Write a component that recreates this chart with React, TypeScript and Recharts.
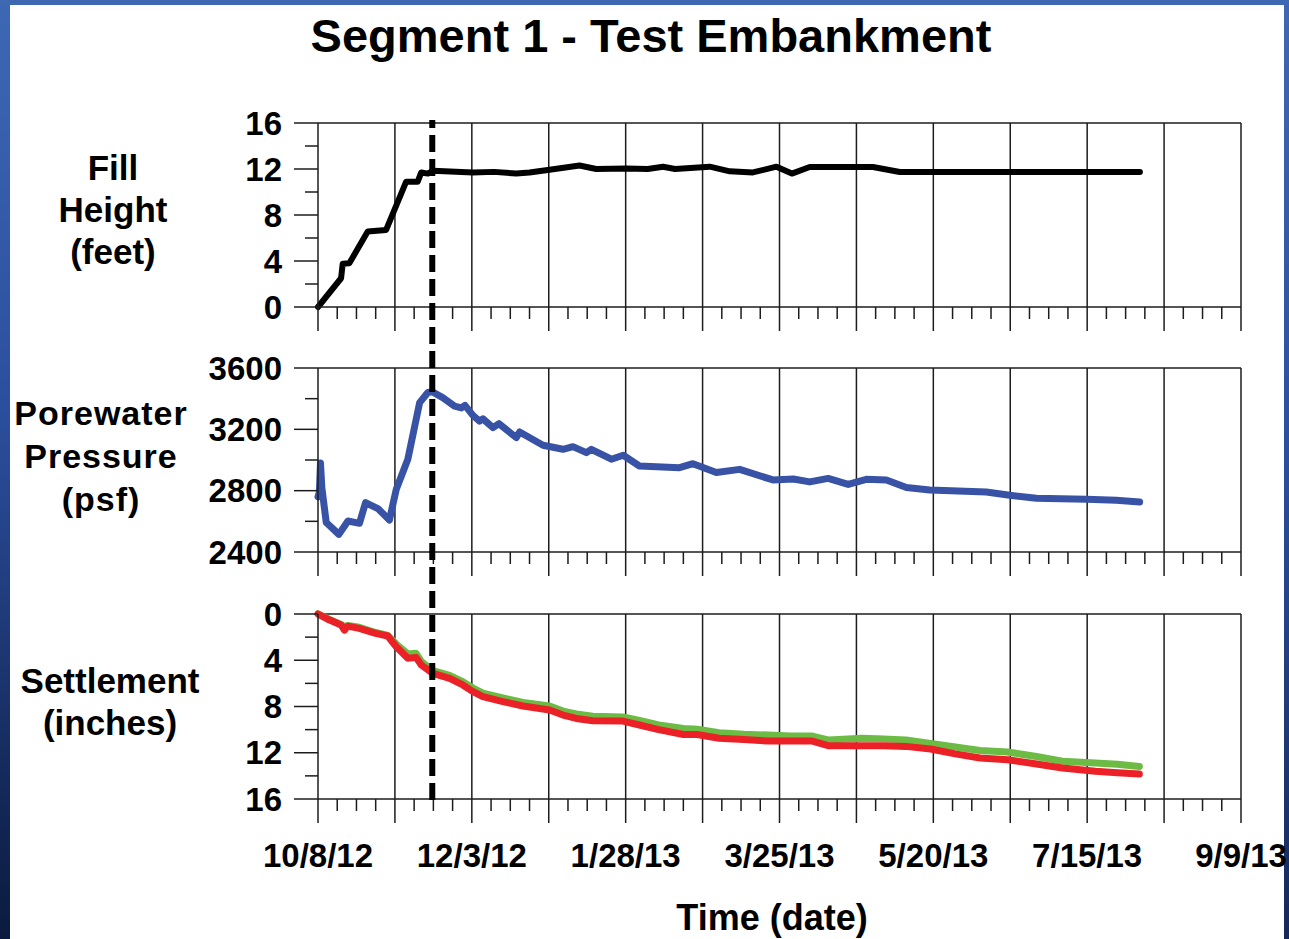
import React from 'react'
import { Line, LineChart, ReferenceLine, XAxis, YAxis } from 'recharts'

// time axis: days since 10/8/12
const dateLabels = ['10/8/12', '12/3/12', '1/28/13', '3/25/13', '5/20/13', '7/15/13', '9/9/13']
const SPAN_DAYS = 336
const GRID_STEP = 28
const LABEL_STEP = 56
const MINOR_STEP = 7
const loadDay = 41.6 // dashed marker, end of fill placement

const fillDays = [0, 8.4, 9, 11.4, 18.1, 24.8, 32.1, 36.3, 37.6, 40, 41.8, 56.4, 64, 72.2, 77, 84.3, 95.2,
  101.3, 112.2, 120, 125.6, 130, 142.6, 149.9, 158.3, 166.9, 172.5, 179, 202, 211.8, 299.2]
const fillFeet = [0, 2.5, 3.77, 3.8, 6.57, 6.7, 10.9, 10.9, 11.7, 11.6, 11.85, 11.7, 11.75, 11.6, 11.7, 11.94, 12.3,
  12.0, 12.05, 12.0, 12.2, 12.0, 12.2, 11.8, 11.7, 12.2, 11.6, 12.17, 12.17, 11.74, 11.74]

const poreDays = [0, 0.5, 0.9, 1.4, 3, 7.6, 10.9, 15.1, 17.3, 21.8, 26, 28.5, 32.7, 37, 40, 41.6, 45.4, 49.7, 52.2,
  53.5, 56.4, 58.8, 60, 63.7, 65.9, 72.2, 73.4, 81.9, 89.2, 92.8, 97.7, 99.5, 106.8, 111.1, 117, 131.6, 136.5,
  145, 153.5, 165.6, 173, 179, 185.7, 193, 199.6, 206.9, 214.2, 222.7, 243.3, 251.8, 261.5, 279.7, 290.6, 299.1]
const porePsf = [2760, 2790, 2980, 2820, 2592, 2515, 2602, 2587, 2722, 2683, 2609, 2809, 3005, 3374, 3440, 3445,
  3407, 3352, 3340, 3356, 3291, 3254, 3269, 3211, 3237, 3146, 3183, 3096, 3070, 3087, 3048, 3070, 3005, 3031,
  2961, 2950, 2976, 2918, 2939, 2870, 2876, 2857, 2880, 2841, 2874, 2870, 2820, 2804, 2791, 2770, 2750, 2744,
  2737, 2726]

const settleDays = [0, 4, 8.4, 9.6, 10.8, 15, 21, 25.4, 28.5, 32.7, 35.7, 37.6, 41.8, 47.9, 52.7, 56.4, 60, 67.3,
  74.6, 84.3, 89.2, 94, 100, 111, 117, 124, 133, 138, 146, 155, 164, 172, 180, 186, 198, 206, 214, 223, 232,
  241, 251, 261, 271, 283, 291, 299]
const settleRed = [0, 0.5, 0.95, 1.4, 1.05, 1.24, 1.67, 1.9, 2.83, 3.83, 3.75, 4.41, 5.13, 5.56, 6.14, 6.72, 7.15,
  7.58, 7.96, 8.3, 8.74, 9.03, 9.23, 9.26, 9.6, 10.0, 10.42, 10.42, 10.75, 10.85, 10.99, 10.99, 10.99, 11.4,
  11.4, 11.4, 11.45, 11.68, 12.1, 12.46, 12.6, 12.95, 13.32, 13.6, 13.72, 13.84]
const settleGreen = [0, 0.45, 0.9, 1.1, 1.0, 1.15, 1.6, 1.85, 2.6, 3.45, 3.4, 4.1, 4.9, 5.3, 5.85, 6.4, 6.85, 7.25,
  7.65, 7.95, 8.4, 8.65, 8.85, 8.9, 9.2, 9.6, 9.9, 9.97, 10.27, 10.4, 10.47, 10.56, 10.56, 10.9, 10.75, 10.8,
  10.9, 11.19, 11.5, 11.8, 11.94, 12.3, 12.74, 12.88, 13.0, 13.18]

const fillData = fillDays.map((day, i) => ({ day, feet: fillFeet[i] }))
const poreData = poreDays.map((day, i) => ({ day, psf: porePsf[i] }))
const settleData = settleDays.map((day, i) => ({ day, red: settleRed[i], green: settleGreen[i] }))
// vertical marker drawn as a two-point series from bottom to top of the overlay
const markerData = [{ day: loadDay, v: 0 }, { day: loadDay, v: 1 }]

const xTicks = Array.from({ length: SPAN_DAYS / MINOR_STEP + 1 }, (_, i) => i * MINOR_STEP)
const gridDays = xTicks.filter((d) => d > 0 && d % GRID_STEP === 0)

const FONT = '"Liberation Sans", Arial, Helvetica, sans-serif'
const AXIS = '#1c1c1c'
const W = 1289
const PLOT_LEFT = 318
const PLOT_RIGHT = 1241
const Y_AXIS_W = 60

function YTick(props: any) {
  const { x, y, payload, majors } = props
  const major = majors.includes(payload.value)
  return (
    <g>
      <line x1={x - (major ? 24 : 13)} x2={x} y1={y} y2={y} stroke={AXIS} strokeWidth={1.5} />
      {major && (
        <text x={x - 36} y={y} dy="0.35em" textAnchor="end" fontFamily={FONT} fontWeight={700}
          fontSize={33} fill="#000">
          {payload.value}
        </text>
      )}
    </g>
  )
}

function XTick(props: any) {
  const { x, y, payload, showDates } = props
  const d = payload.value
  const major = d % GRID_STEP === 0
  const label = showDates && d % LABEL_STEP === 0 ? dateLabels[d / LABEL_STEP] : null
  return (
    <g>
      <line x1={x} x2={x} y1={y} y2={y + (major ? 24 : 12)} stroke={AXIS} strokeWidth={1.5} />
      {label && (
        <text x={x} y={y + 56} dy="0.35em" textAnchor="middle" fontFamily={FONT} fontWeight={700}
          fontSize={33} fill="#000">
          {label}
        </text>
      )}
    </g>
  )
}

interface PanelProps {
  top: number
  height: number
  marginTop: number
  plotHeight: number
  xHeight: number
  domain: [number, number]
  yTicks: number[]
  yMajor: number[]
  reversed?: boolean
  showDates?: boolean
  children: React.ReactNode
}

function Panel({ top, height, marginTop, plotHeight, xHeight, domain, yTicks, yMajor, reversed, showDates, children }: PanelProps) {
  return (
    <div style={{ position: 'absolute', left: 0, top }}>
      <LineChart width={W} height={height}
        margin={{ top: marginTop, right: W - PLOT_RIGHT, bottom: height - marginTop - plotHeight - xHeight, left: PLOT_LEFT - Y_AXIS_W }}>
        <XAxis dataKey="day" type="number" domain={[0, SPAN_DAYS]} ticks={xTicks} interval={0}
          tickSize={0} tickMargin={0} height={xHeight} axisLine={{ stroke: AXIS, strokeWidth: 1.5 }}
          tick={(p: any) => <XTick {...p} showDates={showDates} />} />
        <YAxis type="number" domain={domain} ticks={yTicks} interval={0} reversed={reversed}
          tickSize={0} tickMargin={0} width={Y_AXIS_W} axisLine={{ stroke: AXIS, strokeWidth: 1.5 }}
          tick={(p: any) => <YTick {...p} majors={yMajor} />} />
        {gridDays.map((d) => (
          <ReferenceLine key={d} x={d} stroke={AXIS} strokeWidth={1.5} />
        ))}
        <ReferenceLine y={reversed ? domain[0] : domain[1]} stroke={AXIS} strokeWidth={1.5} />
        {children}
      </LineChart>
    </div>
  )
}

const labelStyle: React.CSSProperties = {
  position: 'absolute',
  width: 200,
  textAlign: 'center',
  fontFamily: FONT,
  fontWeight: 700,
  fontSize: 35,
  lineHeight: '42px',
  color: '#000',
}

export default function App() {
  return (
    <div style={{ position: 'absolute', left: 0, top: 0, width: W, height: 939, background: '#fff', overflow: 'hidden' }}>
      <div style={{ position: 'absolute', left: 0, top: 0, width: 10, height: 939,
        background: 'linear-gradient(to bottom, #3d68b4 0%, #2b4e9c 45%, #0b1a3e 100%)' }} />
      <div style={{ position: 'absolute', left: 0, top: 0, width: W, height: 5, background: '#3f68b2' }} />
      <div style={{ position: 'absolute', left: 1284, top: 0, width: 5, height: 939,
        background: 'linear-gradient(to bottom, #3f68b2 0%, #2b4e9c 50%, #14295a 100%)' }} />

      <div style={{ position: 'absolute', left: 151, top: 8, width: 1000, textAlign: 'center', fontFamily: FONT,
        fontWeight: 700, fontSize: 47, lineHeight: '56px', color: '#000' }}>
        Segment 1 - Test Embankment
      </div>

      <div style={{ ...labelStyle, left: 13, top: 147 }}>Fill<br />Height<br />(feet)</div>
      <div style={{ ...labelStyle, left: 1, top: 392, lineHeight: '43px', fontSize: 34, letterSpacing: 1 }}>
        Porewater<br />Pressure<br />(psf)
      </div>
      <div style={{ ...labelStyle, left: 10, top: 660 }}>Settlement<br />(inches)</div>

      <Panel top={100} height={268} marginTop={23} plotHeight={184} xHeight={40} domain={[0, 16]}
        yTicks={[0, 2, 4, 6, 8, 10, 12, 14, 16]} yMajor={[0, 4, 8, 12, 16]}>
        <Line data={fillData} dataKey="feet" type="linear" stroke="#000" strokeWidth={6} dot={false}
          strokeLinecap="round" strokeLinejoin="round" isAnimationActive={false} />
      </Panel>

      <Panel top={340} height={274} marginTop={28} plotHeight={184} xHeight={40} domain={[2400, 3600]}
        yTicks={[2400, 2600, 2800, 3000, 3200, 3400, 3600]} yMajor={[2400, 2800, 3200, 3600]}>
        <Line data={poreData} dataKey="psf" type="linear" stroke="#3853a6" strokeWidth={7} dot={false}
          strokeLinecap="round" strokeLinejoin="round" isAnimationActive={false} />
      </Panel>

      <Panel top={586} height={310} marginTop={28} plotHeight={185} xHeight={90} domain={[0, 16]} reversed showDates
        yTicks={[0, 2, 4, 6, 8, 10, 12, 14, 16]} yMajor={[0, 4, 8, 12, 16]}>
        <Line data={settleData} dataKey="green" type="linear" stroke="#6cbb45" strokeWidth={7} dot={false}
          strokeLinecap="round" strokeLinejoin="round" isAnimationActive={false} />
        <Line data={settleData} dataKey="red" type="linear" stroke="#ec2027" strokeWidth={7} dot={false}
          strokeLinecap="round" strokeLinejoin="round" isAnimationActive={false} />
      </Panel>

      {/* dashed marker spanning all three panels */}
      <div style={{ position: 'absolute', left: 0, top: 120 }}>
        <LineChart width={W} height={680} margin={{ top: 0, right: W - PLOT_RIGHT, bottom: 0, left: PLOT_LEFT }}>
          <XAxis dataKey="day" type="number" domain={[0, SPAN_DAYS]} hide />
          <YAxis type="number" domain={[0, 1]} width={0} hide />
          <Line data={markerData} dataKey="v" type="linear" stroke="#000" strokeWidth={6}
            strokeDasharray="17 7" dot={false} isAnimationActive={false} />
        </LineChart>
      </div>

      <div style={{ position: 'absolute', left: 572, top: 898, width: 400, textAlign: 'center', fontFamily: FONT,
        fontWeight: 700, fontSize: 36, lineHeight: '40px', color: '#000' }}>
        Time (date)
      </div>
    </div>
  )
}
